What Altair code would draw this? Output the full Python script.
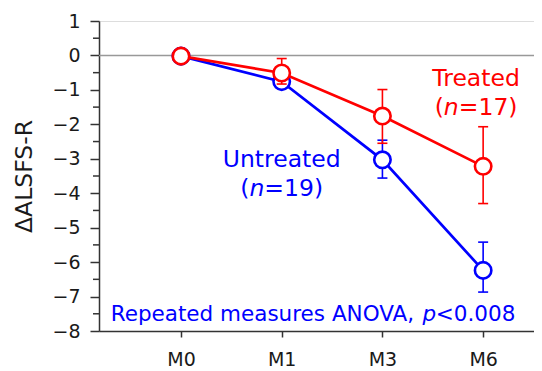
import altair as alt
import pandas as pd

# ---- data ----
months = ["M0", "M1", "M3", "M6"]
treated_mean = [-0.02, -0.51, -1.76, -3.22]
treated_lo = [-0.02, -0.83, -2.55, -4.30]
treated_hi = [-0.02, -0.09, -0.99, -2.07]
untreated_mean = [-0.02, -0.76, -3.03, -6.24]
untreated_lo = [-0.02, -0.95, -3.56, -6.87]
untreated_hi = [-0.02, -0.57, -2.46, -5.42]
y_major = [-8, -7, -6, -5, -4, -3, -2, -1, 0, 1]
y_minor = [-7.5, -6.5, -5.5, -4.5, -3.5, -2.5, -1.5, -0.5, 0.5]

FONT = "DejaVu Sans"
RED = "#ff0000"
BLUE = "#0000ff"
AX = "#333333"

W, H = 435, 310

def series_df(mean, lo, hi):
    return pd.DataFrame({
        "pos": list(range(len(months))),
        "month": months,
        "mean": mean,
        "lo": lo,
        "hi": hi,
    })

df_t = series_df(treated_mean, treated_lo, treated_hi)
df_u = series_df(untreated_mean, untreated_lo, untreated_hi)

xs = alt.Scale(domain=[-0.814, 3.505], nice=False, zero=False)
ys = alt.Scale(domain=[-8, 1], nice=False, zero=False)

label_expr = "[" + ",".join("'%s'" % m for m in months) + "][datum.value]"

x_axis = alt.Axis(values=list(range(len(months))), labelExpr=label_expr, title=None,
                  grid=False, tickSize=6, tickWidth=1.5, tickColor=AX,
                  domainColor=AX, domainWidth=1.5, labelFontSize=19,
                  labelColor="#1a1a1a", labelFont=FONT, labelPadding=13)
y_axis = alt.Axis(values=y_major, title="ΔALSFS-R", grid=False, tickSize=9,
                  tickWidth=1.5, tickColor=AX, domainColor=AX, domainWidth=1.5,
                  labelFontSize=19, labelColor="#1a1a1a", labelFont=FONT,
                  labelPadding=10, titleFont=FONT, titleFontSize=23.5,
                  titleFontWeight="normal", titleColor="#1a1a1a", titlePadding=15)

X = lambda f: alt.X(f, scale=xs, axis=x_axis)
Y = lambda f: alt.Y(f, scale=ys, axis=y_axis)

zero_df = pd.DataFrame({"pos": [-0.814], "pos2": [3.505], "y": [0]})
zero = alt.Chart(zero_df).mark_rule(color="#999999", strokeWidth=1.5).encode(
    x=X("pos:Q"), x2="pos2:Q", y=Y("y:Q"),
)
minor = alt.Chart(pd.DataFrame({"y": y_minor})).mark_rule(color=AX, strokeWidth=1.5).encode(
    x=alt.value(-6), x2=alt.value(0), y=Y("y:Q"),
)

def series_layers(df, color):
    base = alt.Chart(df)
    line = base.mark_line(color=color, strokeWidth=2.7).encode(x=X("pos:Q"), y=Y("mean:Q"))
    err = base.mark_rule(color=color, strokeWidth=1.6).encode(
        x=X("pos:Q"), y=Y("lo:Q"), y2="hi:Q")
    cap_hi = base.mark_rule(color=color, strokeWidth=1.6, xOffset=-5, x2Offset=5).encode(
        x=X("pos:Q"), x2="pos:Q", y=Y("hi:Q"))
    cap_lo = base.mark_rule(color=color, strokeWidth=1.6, xOffset=-5, x2Offset=5).encode(
        x=X("pos:Q"), x2="pos:Q", y=Y("lo:Q"))
    pts = base.mark_point(shape="circle", size=270, filled=False, fill="white",
                          fillOpacity=1, opacity=1, stroke=color, strokeWidth=2.6).encode(
        x=X("pos:Q"), y=Y("mean:Q"))
    return [line, err, cap_hi, cap_lo, pts]

def text_mark(txt, x, y, color, size, align="center", dx=0, italic=False):
    d = pd.DataFrame({"x": [x], "y": [y], "t": [txt]})
    return alt.Chart(d).mark_text(
        font=FONT, fontSize=size, color=color, align=align, baseline="alphabetic",
        dx=dx, fontStyle="italic" if italic else "normal",
    ).encode(x=X("x:Q"), y=Y("y:Q"), text="t:N")

def n_label(num, x, y, color, size):
    w_paren = 0.390 * size
    w_n = 0.634 * size
    rest = "=%d)" % num
    total = (0.390 + 0.634 + 0.838 + 0.636 * 2 + 0.390) * size
    left = -total / 2
    return [
        text_mark("(", x, y, color, size, align="left", dx=left),
        text_mark("n", x, y, color, size, align="left", dx=left + w_paren, italic=True),
        text_mark(rest, x, y, color, size, align="left", dx=left + w_paren + w_n),
    ]

FA = 23.5
annot = []
annot.append(text_mark("Treated", 2.93, -0.89, RED, FA))
annot += n_label(17, 2.93, -1.74, RED, FA)
annot.append(text_mark("Untreated", 1.0, -3.24, BLUE, FA))
annot += n_label(19, 1.0, -4.08, BLUE, FA)

fs_b = 21.5
part1 = "Repeated measures ANOVA, "
w1 = 14.5 * fs_b
w_p = 0.62 * fs_b
annot.append(text_mark(part1, -0.698, -7.72, BLUE, fs_b, align="left"))
annot.append(text_mark("p", -0.698, -7.72, BLUE, fs_b, align="left", dx=w1, italic=True))
annot.append(text_mark("<0.008", -0.698, -7.72, BLUE, fs_b, align="left", dx=w1 + w_p))

layers = [zero, minor] + series_layers(df_u, BLUE) + series_layers(df_t, RED) + annot

chart = alt.layer(*layers).properties(
    width=W, height=H,
    autosize=alt.AutoSizeParams(type="none"),
    padding={"left": 91, "top": 13, "right": 0, "bottom": 37},
).configure_view(strokeWidth=0, stroke="transparent").configure(font=FONT)

chart.save("out.html", embed_options={"renderer": "svg", "actions": False})
